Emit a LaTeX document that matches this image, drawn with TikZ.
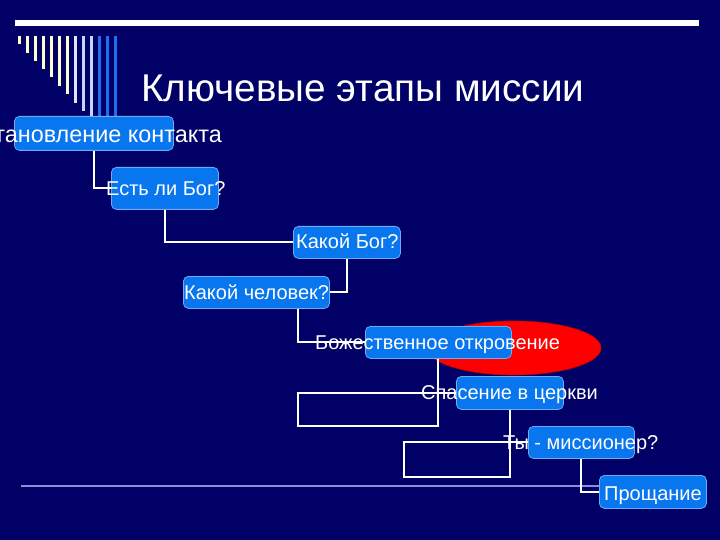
\documentclass[tikz,border=0pt]{standalone}
\usepackage{fontspec}
\setmainfont{Liberation Sans}
\definecolor{bgnavy}{RGB}{0,0,102}
\definecolor{boxblue}{RGB}{8,118,238}
\definecolor{boxedge}{RGB}{110,170,245}
\definecolor{cream}{RGB}{255,255,204}
\definecolor{pale1}{RGB}{222,230,255}
\definecolor{pale2}{RGB}{196,214,255}
\definecolor{barblue}{RGB}{30,112,240}
\definecolor{rulepurple}{RGB}{140,140,215}
\definecolor{ellred}{RGB}{255,0,0}
\definecolor{elledge}{RGB}{200,0,0}
\tikzset{
  stagebox/.style={draw=boxedge, line width=0.8pt, fill=boxblue, rounded corners=5pt, inner sep=0pt, anchor=north west},
  stagetext/.style={text=white, inner sep=0pt, font=\fontsize{20}{22}\selectfont},
  link/.style={draw=white, line width=1.9pt},
}
\begin{document}
\begin{tikzpicture}[x=1pt,y=-1pt]
\fill[bgnavy] (0,0) rectangle (720,540);
\useasboundingbox (0,0) rectangle (720,540);
% top rule
\fill[white] (15,20.5) rectangle (699,26);
% decorative bars
\foreach \i/\b/\c in {0/44/cream,1/53/cream,2/61/cream,3/69/cream,4/77/cream,5/86/cream,6/94/cream,7/103/pale1,8/111/pale2,9/117/pale2,10/117/barblue,11/117/barblue,12/117/barblue}{
  \fill[\c] ({17.5+8*\i},36) rectangle ({20.5+8*\i},\b);
}
% title
\node[text=white, inner sep=0pt, anchor=base west, font=\fontsize{38.7}{44}\selectfont] (title) at (141,102) {Ключевые этапы миссии};
% bottom rule
\coordinate (ruleL) at (21,486);
\coordinate (ruleR) at (600,486);
\draw[rulepurple, line width=2pt] (ruleL) -- (ruleR);
% ellipse
\fill[ellred, draw=elledge, line width=0.6pt] (514,348) ellipse [x radius=87, y radius=27];
% boxes
\node[stagebox, minimum width=159pt, minimum height=34pt] (b1) at (14,116) {};
\node[stagebox, minimum width=107pt, minimum height=42pt] (b2) at (111,167) {};
\node[stagebox, minimum width=107pt, minimum height=32pt] (b3) at (293,226) {};
\node[stagebox, minimum width=146pt, minimum height=32pt] (b4) at (183,276) {};
\node[stagebox, minimum width=146pt, minimum height=32pt] (b5) at (365,326) {};
\node[stagebox, minimum width=107pt, minimum height=33pt] (b6) at (456,376) {};
\node[stagebox, minimum width=106pt, minimum height=32pt] (b7) at (528,426) {};
\node[stagebox, minimum width=107pt, minimum height=33pt] (b8) at (599,475) {};
% connectors
\coordinate (c1) at (298,426);
\coordinate (c2) at (404,477);
\draw[link] (b1.south) |- (b2.west);
\draw[link] (b2.south) |- (b3.west);
\draw[link] (b3.south) |- (b4.east);
\draw[link] ([xshift=42pt]b4.south) |- (b5.west);
\draw[link] (b5.south) |- (c1) |- (b6.west);
\draw[link] (b6.south) |- (c2) |- (b7.west);
\draw[link] (b7.south) |- (b8.west);
% texts
\node[stagetext, anchor=base east, font=\fontsize{23.4}{26}\selectfont] (t1) at (222,143) {Установление контакта};
\node[stagetext, anchor=base west] (t2) at (106,196) {Есть ли Бог?};
\node[stagetext, anchor=base west] (t3) at (296,248) {Какой Бог?};
\node[stagetext, anchor=base west] (t4) at (184,299) {Какой человек?};
\node[stagetext, anchor=base west] (t5) at (315,349) {Божественное откровение};
\node[stagetext, anchor=base west] (t6) at (421,399) {Спасение в церкви};
\node[stagetext, anchor=base west] (t7) at (503,449) {Ты - миссионер?};
\node[stagetext, anchor=base west] (t8) at (604,500) {Прощание};
\end{tikzpicture}
\end{document}
